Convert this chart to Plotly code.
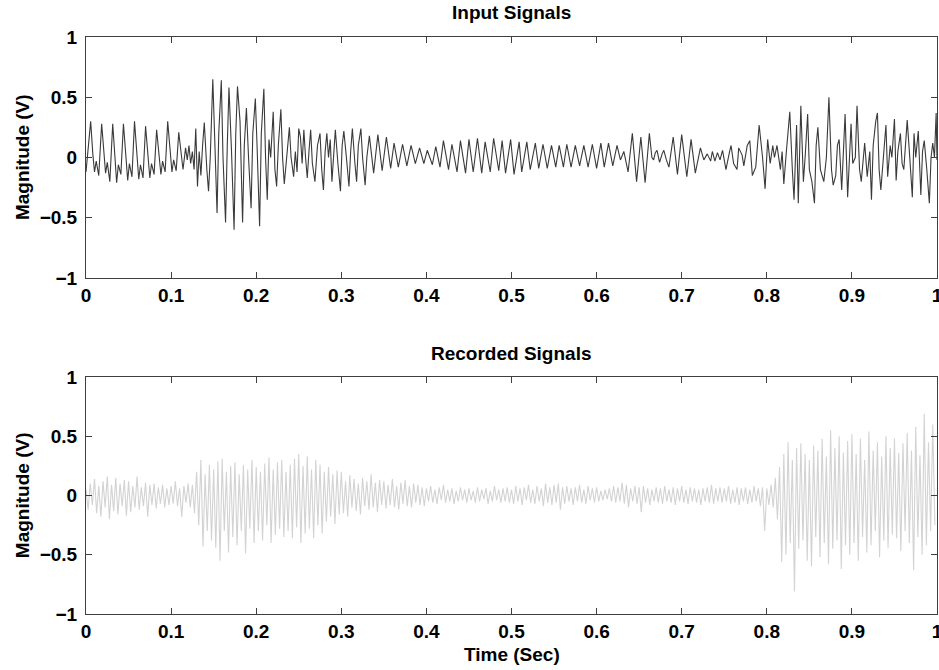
import plotly.graph_objects as go

# ---------------- Input signal: turning points ----------------
# times in milliseconds, values in volts
in_ms_1 = [0, 2, 5.5, 8, 10, 12, 15, 18.4, 21, 23, 25, 28, 31.4, 34, 36, 38, 41, 44, 47, 49, 51, 54,
           57, 60, 62, 64, 67, 70, 73, 75, 77, 80, 83, 86, 88, 90, 93, 96, 99, 101, 103, 106, 109, 112,
           114, 117, 119, 121, 123, 125, 127, 129, 131, 133, 135, 137, 139, 142, 144, 146, 149, 151.5,
           154, 156, 159, 161, 164, 166, 168, 171, 174, 176, 178, 181, 184, 186, 188.5, 191, 194, 196,
           199, 201, 204, 206, 209, 211, 213, 215, 217, 220, 222, 224, 226, 229, 231, 233, 236, 239,
           241, 244, 246, 248, 250]
in_v_1 = [-0.12, 0.05, 0.30, 0.03, -0.12, -0.03, -0.15, 0.28, 0.02, -0.13, -0.04, -0.20, 0.28, 0.01,
          -0.21, -0.06, -0.14, 0.28, 0.03, -0.19, -0.05, -0.16, 0.30, 0.00, -0.18, -0.06, -0.17, 0.26,
          0.02, -0.17, -0.05, -0.14, 0.23, 0.04, -0.14, -0.03, -0.12, 0.30, 0.05, -0.12, -0.02, -0.11,
          0.21, 0.00, -0.10, 0.08, -0.02, 0.10, -0.05, 0.05, -0.10, 0.24, -0.24, 0.05, -0.15, 0.10,
          0.29, -0.10, -0.28, 0.00, 0.65, 0.10, -0.46, 0.20, 0.64, 0.00, -0.54, 0.10, 0.58, 0.05,
          -0.60, 0.20, 0.59, 0.30, -0.54, 0.10, 0.41, 0.00, -0.42, 0.20, 0.49, 0.10, -0.57, 0.20,
          0.57, 0.00, -0.35, 0.15, 0.00, 0.38, -0.10, -0.24, 0.10, 0.40, 0.00, -0.22, 0.05, 0.25,
          0.00, -0.16, 0.05, -0.12, 0.24]

in_ms_2 = [252, 254, 256, 258, 260, 262, 264, 266, 269, 272, 275, 277, 279, 281, 283, 285, 287, 289,
           291, 293, 296, 299, 301, 303, 306, 309, 311, 313, 316, 318, 320, 323, 325, 328, 330, 333,
           338, 343, 348, 353, 358, 362, 367, 372, 377, 382, 387, 392, 397, 401, 404, 407, 411, 416,
           420, 426, 430, 436, 440, 446, 450, 455, 460, 465, 469, 475, 479, 485, 489, 493, 499]
in_v_2 = [0.17, -0.05, 0.23, 0.00, -0.17, 0.05, 0.23, -0.05, -0.20, 0.10, 0.20, -0.10, -0.27, 0.05,
          0.20, 0.00, 0.15, -0.20, 0.00, 0.23, -0.05, -0.28, 0.10, 0.22, 0.00, -0.24, 0.05, 0.24,
          -0.05, -0.20, 0.10, 0.24, 0.00, -0.23, 0.00, 0.18, -0.13, 0.19, -0.11, 0.17, -0.09, 0.12,
          -0.08, 0.11, -0.07, 0.10, -0.05, 0.08, -0.05, 0.06, 0.00, -0.06, 0.09, -0.08, 0.14, -0.10,
          0.11, -0.12, 0.14, -0.13, 0.15, -0.12, 0.16, -0.13, 0.13, -0.12, 0.16, -0.11, 0.14, -0.13,
          0.15]

in_ms_3 = [503, 509, 512, 518, 522, 528, 532, 537, 542, 547, 552, 556, 561, 565, 570, 575, 580, 585,
           590, 595, 600, 605, 609, 614, 619, 624, 628, 632, 637, 642, 647, 652, 657, 662, 665, 667,
           669, 671, 674, 677, 679, 682, 685, 690, 695, 700, 706, 711, 716, 722, 726, 730, 732, 734,
           736, 739, 742, 745, 748]
in_v_3 = [-0.14, 0.13, -0.12, 0.13, -0.10, 0.12, -0.09, 0.11, -0.09, 0.10, -0.08, 0.10, -0.08, 0.11,
          -0.08, 0.10, -0.07, 0.10, -0.08, 0.11, -0.09, 0.12, -0.08, 0.12, -0.07, 0.10, -0.02, 0.05,
          -0.12, 0.20, -0.20, 0.17, -0.21, 0.20, 0.00, -0.02, 0.04, 0.06, -0.04, 0.03, 0.06, -0.02,
          -0.08, 0.17, -0.14, 0.19, -0.16, 0.15, -0.13, 0.08, -0.02, 0.03, 0.00, -0.03, 0.05, -0.03,
          0.04, -0.02, 0.06]

in_ms_4 = [752, 756, 758, 761, 765, 767, 771, 773, 777, 780, 783, 787, 791, 795, 798, 801, 804, 807,
           809, 812, 816, 818, 820, 823, 827, 830, 832, 835, 837, 840, 843, 845, 848, 850, 853, 856,
           858, 860, 863, 867, 870, 873, 876, 878, 881, 883, 885, 888, 890, 892, 895, 897, 899, 901,
           904, 906, 909, 911, 914, 915, 918, 921, 923, 925, 928, 930, 932, 934, 937, 940, 942, 945,
           947, 950, 952, 954, 957, 959, 961, 963, 965, 968, 971, 973, 975, 978, 981, 983, 985, 988,
           991, 993, 995, 997, 999, 1000]
in_v_4 = [-0.10, 0.04, 0.10, -0.05, -0.10, 0.08, 0.02, -0.07, 0.10, 0.14, -0.15, -0.08, 0.27, 0.00,
          -0.26, 0.15, -0.05, 0.10, 0.00, 0.10, -0.10, 0.05, -0.22, 0.05, 0.38, -0.10, -0.35, 0.27,
          -0.38, 0.43, -0.20, 0.00, 0.36, -0.10, -0.20, -0.38, 0.10, 0.25, -0.10, -0.20, 0.00, 0.50,
          -0.10, -0.23, -0.15, 0.10, 0.15, -0.27, 0.05, 0.36, -0.33, 0.00, 0.28, -0.05, 0.00, 0.43,
          -0.10, -0.20, 0.03, 0.12, -0.16, 0.05, -0.35, 0.10, 0.30, 0.37, -0.10, -0.27, 0.00, 0.27,
          -0.16, 0.10, 0.00, 0.32, -0.19, 0.05, 0.20, -0.05, -0.10, 0.10, 0.31, 0.00, -0.33, 0.20,
          0.00, 0.22, -0.31, 0.05, 0.14, -0.10, -0.38, 0.00, 0.12, 0.00, 0.37, -0.02]

# ---------------- Recorded signal: samples every 2.5 ms ----------------
rec_dt = 0.0025
rec_1 = [0.05, -0.12, 0.10, -0.08, 0.14, -0.15, 0.08, -0.18, 0.12, -0.10, 0.16, -0.20, 0.09, -0.13, 0.15, -0.16, 0.10, -0.09, 0.13, -0.17,
         0.12, -0.14, 0.08, -0.10, 0.16, -0.12, 0.07, -0.09, 0.11, -0.18, 0.09, -0.08, 0.10, -0.11, 0.07, -0.07, 0.09, -0.10, 0.06, -0.08,
         0.08, -0.07, 0.12, -0.09, 0.06, -0.18, 0.08, -0.06, 0.10, -0.10, 0.09, -0.15, 0.20, -0.25, 0.30, -0.43, 0.18, -0.30, 0.26, -0.38,
         0.22, -0.44, 0.29, -0.55, 0.31, -0.30, 0.20, -0.48, 0.25, -0.35, 0.28, -0.42, 0.18, -0.30, 0.26, -0.49, 0.22, -0.28, 0.30, -0.40]
rec_2 = [0.24, -0.30, 0.20, -0.38, 0.27, -0.25, 0.32, -0.40, 0.22, -0.33, 0.28, -0.28, 0.30, -0.35, 0.20, -0.30, 0.26, -0.36, 0.31, -0.27,
         0.35, -0.40, 0.25, -0.32, 0.33, -0.28, 0.22, -0.36, 0.30, -0.25, 0.26, -0.32, 0.20, -0.22, 0.24, -0.18, 0.18, -0.24, 0.21, -0.16,
         0.20, -0.15, 0.12, -0.18, 0.17, -0.10, 0.14, -0.13, 0.10, -0.16, 0.15, -0.09, 0.12, -0.12, 0.18, -0.10, 0.11, -0.14, 0.13, -0.08,
         0.12, -0.11, 0.09, -0.08, 0.14, -0.10, 0.08, -0.12, 0.11, -0.07, 0.13, -0.09, 0.08, -0.10, 0.10, -0.06, 0.09, -0.08, 0.07, -0.09]
rec_3 = [0.06, -0.05, 0.08, -0.06, 0.05, -0.07, 0.07, -0.04, 0.09, -0.06, 0.05, -0.05, 0.06, -0.07, 0.04, -0.05, 0.07, -0.04, 0.05, -0.06,
         0.06, -0.04, 0.04, -0.06, 0.07, -0.05, 0.05, -0.03, 0.06, -0.07, 0.04, -0.05, 0.08, -0.04, 0.05, -0.06, 0.06, -0.05, 0.07, -0.06,
         0.05, -0.07, 0.08, -0.05, 0.06, -0.08, 0.07, -0.04, 0.09, -0.06, 0.05, -0.07, 0.08, -0.05, 0.06, -0.09, 0.10, -0.06, 0.07, -0.08,
         0.09, -0.06, 0.10, -0.12, 0.07, -0.07, 0.08, -0.05, 0.06, -0.08, 0.07, -0.05, 0.09, -0.06, 0.05, -0.07, 0.08, -0.04, 0.06, -0.06]
rec_4 = [0.07, -0.05, 0.04, -0.04, 0.05, -0.03, 0.06, -0.05, 0.08, -0.06, 0.07, -0.05, 0.11, -0.07, 0.09, -0.10, 0.06, -0.05, 0.08, -0.07,
         0.07, -0.14, 0.08, -0.06, 0.06, -0.08, 0.05, -0.05, 0.07, -0.06, 0.06, -0.07, 0.08, -0.05, 0.05, -0.06, 0.07, -0.08, 0.06, -0.05,
         0.08, -0.06, 0.05, -0.07, 0.07, -0.05, 0.06, -0.06, 0.05, -0.08, 0.06, -0.05, 0.07, -0.06, 0.09, -0.07, 0.06, -0.05, 0.07, -0.06,
         0.06, -0.05, 0.08, -0.07, 0.05, -0.06, 0.07, -0.08, 0.06, -0.05, 0.07, -0.07, 0.05, -0.06, 0.08, -0.05, 0.06, -0.09, 0.07, -0.30]
rec_5 = [0.06, -0.08, 0.09, -0.10, 0.15, -0.20, 0.24, -0.56, 0.35, -0.50, 0.45, -0.40, 0.30, -0.81, 0.40, -0.45, 0.44, -0.38, 0.35, -0.55,
         0.30, -0.60, 0.42, -0.35, 0.38, -0.52, 0.48, -0.40, 0.33, -0.58, 0.55, -0.45, 0.40, -0.38, 0.50, -0.62, 0.36, -0.42, 0.46, -0.50,
         0.52, -0.40, 0.35, -0.55, 0.48, -0.35, 0.30, -0.48, 0.54, -0.42, 0.38, -0.30, 0.45, -0.52, 0.33, -0.38, 0.50, -0.44, 0.40, -0.33,
         0.48, -0.36, 0.36, -0.47, 0.44, -0.30, 0.53, -0.40, 0.38, -0.63, 0.58, -0.35, 0.34, -0.50, 0.69, -0.42, 0.45, -0.30, 0.60, -0.25]

y_ticks = [-1, -0.5, 0, 0.5, 1]
x_ticks = [0, 0.1, 0.2, 0.3, 0.4, 0.5, 0.6, 0.7, 0.8, 0.9, 1]
titles = ["Input Signals", "Recorded Signals"]
y_label = "Magnitude (V)"
x_label = "Time (Sec)"

# ---------------- build series ----------------
in_t = [m / 1000.0 for m in (in_ms_1 + in_ms_2 + in_ms_3 + in_ms_4)]
in_v = in_v_1 + in_v_2 + in_v_3 + in_v_4
rec_v = rec_1 + rec_2 + rec_3 + rec_4 + rec_5
rec_t = [i * rec_dt for i in range(len(rec_v))]

FONT = "Liberation Sans, Arial, Helvetica, sans-serif"
AX = "#3f3f3f"

fig = go.Figure()
fig.add_trace(go.Scatter(x=rec_t, y=rec_v, mode="lines", xaxis="x2", yaxis="y2",
                         line=dict(color="#d3d3d3", width=1.1), hoverinfo="skip"))
fig.add_trace(go.Scatter(x=in_t, y=in_v, mode="lines", xaxis="x", yaxis="y",
                         line=dict(color="#3a3a3a", width=1.1), hoverinfo="skip"))

tickfont = dict(family=FONT, size=19, color="black", weight="bold")
def xaxis(anchor):
    return dict(domain=[0, 1], range=[0, 1], anchor=anchor, tickvals=x_ticks,
                ticktext=[f"{v:g}" for v in x_ticks], ticks="inside", ticklen=6,
                tickcolor=AX, showline=True, linecolor=AX, linewidth=1, mirror="ticks",
                showgrid=False, zeroline=False, tickfont=tickfont,
                ticklabeloverflow="allow")
def yaxis(anchor, dom):
    return dict(domain=dom, range=[-1, 1], anchor=anchor, tickvals=y_ticks,
                ticktext=[("\u2212" if v < 0 else "") + f"{abs(v):g}" for v in y_ticks],
                ticks="inside", ticklen=6, tickcolor=AX, showline=True, linecolor=AX,
                linewidth=1, mirror="ticks", showgrid=False, zeroline=False,
                tickfont=tickfont, ticklabelstandoff=4, ticklabeloverflow="allow")

fig.update_layout(
    width=939, height=670,
    margin=dict(l=86, r=2, t=37, b=56, autoexpand=False),
    paper_bgcolor="white", plot_bgcolor="white",
    showlegend=False,
    xaxis=xaxis("y"), yaxis=yaxis("x", [0.5823, 1.0]),
    xaxis2=xaxis("y2"), yaxis2=yaxis("x2", [0.0, 0.4107]),
)

bold = lambda s: dict(family=FONT, size=s, color="black", weight="bold")
ann = [
    dict(text=titles[0], x=0.5, y=1.0416, xref="paper", yref="paper", showarrow=False,
         xanchor="center", yanchor="middle", font=bold(19)),
    dict(text=titles[1], x=0.5, y=0.4523, xref="paper", yref="paper", showarrow=False,
         xanchor="center", yanchor="middle", font=bold(19)),
    dict(text=x_label, x=0.5, y=-0.071, xref="paper", yref="paper", showarrow=False,
         xanchor="center", yanchor="middle", font=bold(19)),
    dict(text=y_label, x=-0.0752, y=0.792, xref="paper", yref="paper", showarrow=False,
         textangle=-90, xanchor="center", yanchor="middle", font=bold(19)),
    dict(text=y_label, x=-0.0752, y=0.206, xref="paper", yref="paper", showarrow=False,
         textangle=-90, xanchor="center", yanchor="middle", font=bold(19)),
]
fig.update_layout(annotations=ann)

fig.write_html("out.html", config={"displayModeBar": False},
               post_script="document.body.style.margin='0';document.body.style.overflow='hidden';")
